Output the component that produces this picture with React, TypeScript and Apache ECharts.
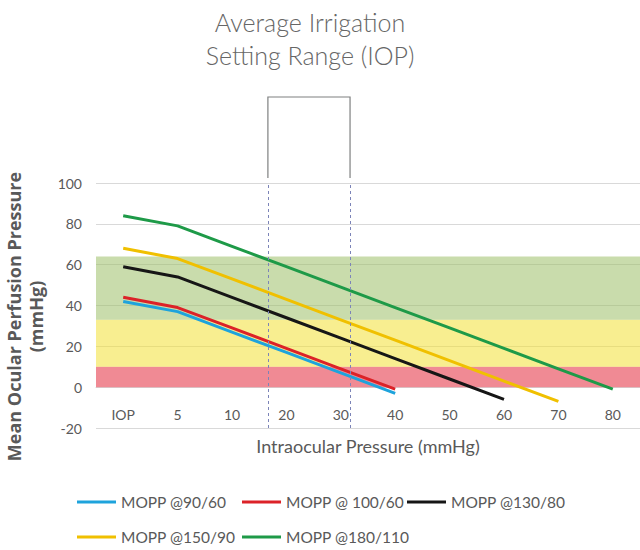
import React, { useEffect, useRef } from "react";
import * as echarts from "echarts";

const categories = ["IOP", "5", "10", "20", "30", "40", "50", "60", "70", "80"];
const seriesNames = ["MOPP @90/60", "MOPP @ 100/60", "MOPP @130/80", "MOPP @150/90", "MOPP @180/110"];
const mopp90_60 = [42, 37, 27, 17, 7, -3];
const mopp100_60 = [44, 39, 29, 19, 9, -1];
const mopp130_80 = [59, 54, 44, 34, 24, 14, 4, -6];
const mopp150_90 = [68, 63, 53, 43, 33, 23, 13, 3, -7];
const mopp180_110 = [84, 79, 69, 59, 49, 39, 29, 19, 9, -1];
const seriesValues = [mopp90_60, mopp100_60, mopp130_80, mopp150_90, mopp180_110];
const seriesColors = ["#1ea3dc", "#dc2228", "#161616", "#f0c000", "#1e9a48"];
// zone limits (mmHg): red 0-10, yellow 10-33, green 33-64
const bandLimits = [0, 10, 33, 64];
const bandColors = ["rgba(228,42,60,0.55)", "rgba(242,224,53,0.55)", "rgba(157,191,104,0.55)"];
// irrigation range, in category-index units
const irrigationRangeIdx = [2.66, 4.17];
const yTicks = { min: -20, max: 100, interval: 20 };

const FONT = "Lato, 'Liberation Sans', sans-serif";
const TEXT = "#595959";

export default function App() {
  const ref = useRef<HTMLDivElement>(null);
  useEffect(() => {
    if (!ref.current) return;
    const chart = echarts.init(ref.current, null, { renderer: "svg" });
    const legendPos = [
      [77, 494],
      [242, 494],
      [407, 494],
      [77, 529],
      [242, 529],
    ];
    const option: any = {
      animation: false,
      textStyle: { fontFamily: FONT },
      title: {
        text: "Average Irrigation\nSetting Range (IOP)",
        left: 305,
        top: 0,
        textAlign: "center",
        textStyle: {
          fontFamily: FONT,
          fontSize: 25,
          fontWeight: 300,
          color: "#666666",
          lineHeight: 33,
        },
      },
      grid: { left: 96, right: 0, top: 183, bottom: 122, containLabel: false, outerBoundsMode: "none" },
      legend: seriesNames.map((n, i) => ({
        data: [n],
        left: legendPos[i][0],
        top: legendPos[i][1],
        padding: 0,
        icon: "rect",
        itemWidth: 39,
        itemHeight: 3,
        selectedMode: false,
        textStyle: { fontSize: 15.5, color: TEXT, fontFamily: FONT },
      })),
      xAxis: [
        {
          type: "category",
          data: categories,
          boundaryGap: true,
          position: "bottom",
          axisLine: { show: true, onZero: false, lineStyle: { color: "#d9d9d9", width: 1 } },
          axisTick: { show: false },
          axisLabel: { color: TEXT, fontSize: 14, margin: 20, fontFamily: FONT },
          splitLine: { show: false },
          name: "Intraocular Pressure (mmHg)",
          nameLocation: "middle",
          nameGap: 50,
          nameTextStyle: { color: TEXT, fontSize: 18, fontFamily: FONT },
        },
        {
          type: "value",
          min: -0.5,
          max: 9.5,
          show: false,
        },
      ],
      yAxis: {
        type: "value",
        min: yTicks.min,
        max: yTicks.max,
        interval: yTicks.interval,
        axisLine: { show: false, onZero: false },
        axisTick: { show: false },
        axisLabel: { color: TEXT, fontSize: 14, margin: 14, fontFamily: FONT },
        splitLine: { lineStyle: { color: "#d9d9d9", width: 1 } },
        name: "Mean Ocular Perfusion Pressure\n(mmHg)",
        nameLocation: "middle",
        nameRotate: 90,
        nameGap: 35,
        nameTextStyle: {
          color: TEXT,
          fontSize: 18,
          fontWeight: "bold",
          lineHeight: 22,
          fontFamily: "'Open Sans', Lato, sans-serif",
          padding: [0, 22, 0, 0],
        },
      },
      series: [
        ...seriesNames.map((n, i) => ({
          name: n,
          type: "line",
          xAxisIndex: 0,
          yAxisIndex: 0,
          data: seriesValues[i],
          symbol: "none",
          lineStyle: { color: seriesColors[i], width: 3 },
          itemStyle: { color: seriesColors[i] },
          z: 2,
        })),
        {
          name: "zones",
          type: "line",
          xAxisIndex: 1,
          yAxisIndex: 0,
          data: [],
          z: 5,
          silent: true,
          markArea: {
            silent: true,
            data: bandColors.map((c, i) => [
              { yAxis: bandLimits[i], itemStyle: { color: c } },
              { yAxis: bandLimits[i + 1] },
            ]),
          },
        },
        {
          name: "range",
          type: "line",
          xAxisIndex: 1,
          yAxisIndex: 0,
          data: [],
          z: 6,
          silent: true,
          markLine: {
            silent: true,
            symbol: "none",
            label: { show: false },
            lineStyle: { type: [3, 3], color: "#7c84b8", width: 1 },
            data: irrigationRangeIdx.map((v) => ({ xAxis: v })),
          },
        },
      ],
    };
    chart.setOption(option);
    const xs = irrigationRangeIdx.map((v) => chart.convertToPixel({ xAxisIndex: 1 }, v) as number);
    const yTop = chart.convertToPixel({ yAxisIndex: 0 }, yTicks.max) as number;
    const yZero = chart.convertToPixel({ yAxisIndex: 0 }, 0) as number;
    const yBottom = chart.convertToPixel({ yAxisIndex: 0 }, yTicks.min) as number;
    chart.setOption({
      xAxis: [{ offset: yZero - yBottom }, {}],
      graphic: [
        {
          type: "polyline",
          silent: true,
          shape: {
            points: [
              [xs[0], yTop - 5],
              [xs[0], yTop - 86],
              [xs[1], yTop - 86],
              [xs[1], yTop - 5],
            ],
          },
          style: { stroke: "#7f8080", lineWidth: 1.2, fill: "none" },
        },
      ],
    });
    return () => chart.dispose();
  }, []);
  return (
    <div
      ref={ref}
      style={{ position: "absolute", left: 0, top: 0, width: 640, height: 550 }}
    />
  );
}
